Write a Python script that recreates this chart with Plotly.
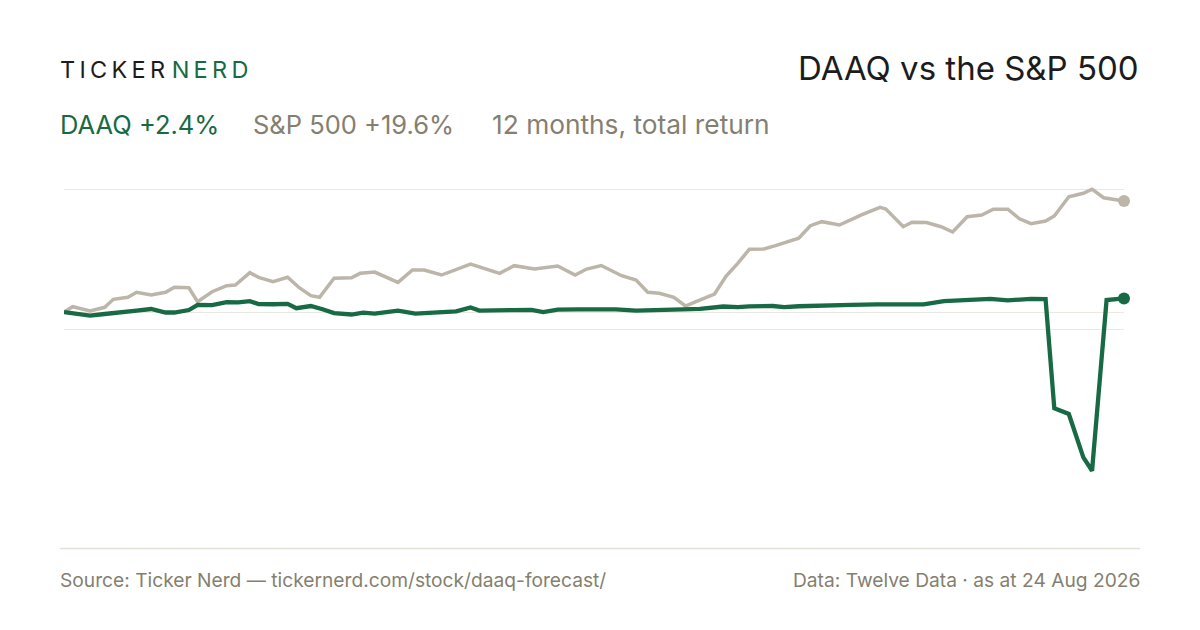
import plotly.graph_objects as go

# ---- data (days since 24 Aug 2025, total return %) ----
sp_days = [0, 3, 9, 14, 17, 22, 25, 30, 35, 38, 43, 46, 51, 56, 59, 64, 67, 72, 77, 81,
           85, 88, 93, 99, 102, 107, 115, 120, 124, 130, 140, 150, 155, 162, 170, 176, 180,
           185, 192, 197, 201, 205, 210, 214, 217, 224, 228, 232, 236, 241, 245, 249, 253,
           257, 261, 267, 275, 281, 283, 289, 292, 297, 302, 306, 311, 316, 320, 325, 329,
           333, 338, 341, 346, 351, 354, 358, 365]
sp_ret = [0.0, 0.94, 0.18, 0.83, 2.24, 2.60, 3.48, 3.00, 3.48, 4.36, 4.29, 1.82, 3.58, 4.64,
          4.77, 6.94, 6.13, 5.35, 6.13, 4.29, 2.88, 2.60, 5.95, 6.06, 6.83, 7.06, 5.24, 7.42,
          7.42, 6.53, 8.48, 6.83, 8.18, 7.59, 8.12, 6.53, 7.59, 8.21, 6.41, 5.65, 3.48, 3.30,
          2.60, 1.06, 1.71, 3.18, 6.36, 8.60, 11.07, 11.13, 11.71, 12.31, 13.02, 15.24, 15.95,
          15.36, 17.25, 18.49, 18.19, 15.06, 15.84, 15.81, 15.06, 14.13, 16.83, 17.13, 18.15,
          18.15, 16.46, 15.59, 16.07, 16.95, 20.36, 20.96, 21.69, 20.17, 19.6]

daaq_days = [0, 4, 9, 14, 18, 22, 25, 30, 35, 38, 43, 46, 51, 56, 60, 64, 67, 72, 77, 80,
             85, 89, 93, 99, 103, 107, 115, 121, 124, 130, 135, 140, 143, 154, 161, 165, 170,
             177, 185, 190, 197, 206, 213, 219, 227, 232, 236, 244, 248, 253, 261, 271, 280,
             296, 303, 319, 325, 333, 338, 341, 346, 351, 354, 359, 365]
daaq_ret = [0.0, -0.35, -0.62, -0.35, -0.18, 0.09, 0.26, 0.53, -0.09, -0.09, 0.35, 1.24,
            1.20, 1.73, 1.71, 1.91, 1.41, 1.37, 1.45, 0.67, 1.06, 0.48, -0.18, -0.44, -0.12,
            -0.30, 0.23, -0.30, -0.18, 0.09, 0.12, 0.79, 0.26, 0.35, 0.39, 0.0, 0.42, 0.48,
            0.45, 0.48, 0.26, 0.30, 0.48, 0.56, 0.97, 0.88, 1.01, 1.06, 0.88, 1.02, 1.20, 1.27,
            1.36, 1.36, 1.94, 2.33, 2.06, 2.33, 2.26, -17.01, -18.01, -25.66, -28.03, 2.12, 2.4]

grid_vals = [-3.0, 0.0, 21.72]

title_text = "DAAQ vs the S&P 500"
daaq_label = "DAAQ +2.4%"
sp_label = "S&P 500 +19.6%"
period_label = "12 months, total return"
source_text = "Source: Ticker Nerd \u2014 tickernerd.com/stock/daaq-forecast/"
data_text = "Data: Twelve Data \u00b7 as at 24 Aug 2026"

# ---- style ----
GREEN = "#176a43"
SAND = "#bcb5a9"
GREY_TXT = "#857f70"
DARK = "#1c1c1c"
GRID = "#ebe8e1"
FONT = "Inter"

W, H = 1200, 630
L, R, T, B = 64, 1124, 180, 548
Y_TOP, Y_BOT = 23.31, -41.67


def px(x):
    return (x - L) / (R - L)


def py(y):
    return (B - y) / (B - T)


fig = go.Figure()
fig.add_trace(go.Scatter(x=sp_days, y=sp_ret, mode="lines",
                         line=dict(color=SAND, width=3.5), hoverinfo="skip"))
fig.add_trace(go.Scatter(x=[sp_days[-1]], y=[sp_ret[-1]], mode="markers",
                         marker=dict(color=SAND, size=12), cliponaxis=False, hoverinfo="skip"))
fig.add_trace(go.Scatter(x=daaq_days, y=daaq_ret, mode="lines",
                         line=dict(color=GREEN, width=4.3), hoverinfo="skip"))
fig.add_trace(go.Scatter(x=[daaq_days[-1]], y=[daaq_ret[-1]], mode="markers",
                         marker=dict(color=GREEN, size=12), cliponaxis=False, hoverinfo="skip"))

ts = "\u2009"
logo = ts.join("TICKER") + "<span style='color:%s'> " % GREEN + ts.join("NERD") + "</span>"

ann = [
    dict(x=px(58), y=py(70), text=logo, xanchor="left", yanchor="middle",
         font=dict(family=FONT, size=23.5, color=DARK)),
    dict(x=px(1141), y=py(68), text=title_text, xanchor="right", yanchor="middle",
         font=dict(family=FONT, size=33, color=DARK)),
    dict(x=px(58), y=py(124), text=daaq_label, xanchor="left", yanchor="middle",
         font=dict(family=FONT, size=25.5, color=GREEN)),
    dict(x=px(251), y=py(124), text=sp_label, xanchor="left", yanchor="middle",
         font=dict(family=FONT, size=25.5, color=GREY_TXT)),
    dict(x=px(490), y=py(124), text=period_label, xanchor="left", yanchor="middle",
         font=dict(family=FONT, size=26.3, color=GREY_TXT)),
    dict(x=px(58), y=py(580), text=source_text, xanchor="left", yanchor="middle",
         font=dict(family=FONT, size=19.2, color=GREY_TXT)),
    dict(x=px(1142), y=py(580), text=data_text, xanchor="right", yanchor="middle",
         font=dict(family=FONT, size=19.2, color=GREY_TXT)),
]
for a in ann:
    a.update(xref="paper", yref="paper", showarrow=False)

fig.update_layout(
    width=W, height=H,
    margin=dict(l=L, r=W - R, t=T, b=H - B, pad=0),
    paper_bgcolor="white", plot_bgcolor="white",
    showlegend=False,
    annotations=ann,
    shapes=[dict(type="line", xref="paper", yref="paper", x0=px(60), x1=px(1140),
                 y0=py(548.5), y1=py(548.5), line=dict(color="#e3dfd5", width=1.5))],
    xaxis=dict(range=[0, 365], showgrid=False, zeroline=False, showticklabels=False,
               ticks="", showline=False, fixedrange=True),
    yaxis=dict(range=[Y_BOT, Y_TOP], tickvals=grid_vals, showgrid=True, gridcolor=GRID,
               gridwidth=1.2, zeroline=False, showticklabels=False, ticks="",
               showline=False, fixedrange=True),
)

fig.write_html("out.html", config={"displayModeBar": False},
               post_script="document.body.style.margin='0';")
